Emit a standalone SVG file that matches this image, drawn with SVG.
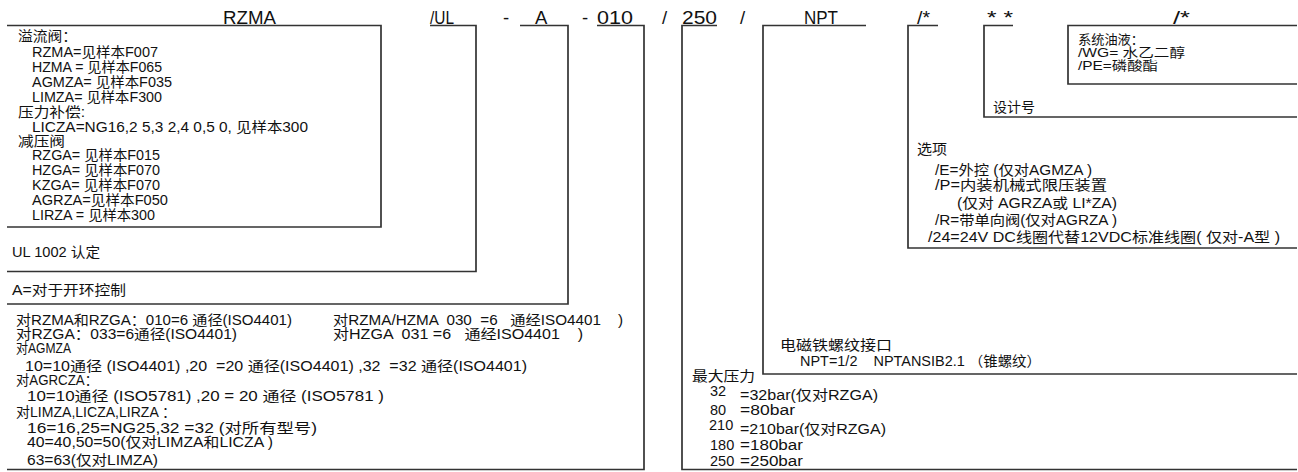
<svg xmlns="http://www.w3.org/2000/svg" width="1298" height="472" viewBox="0 0 1298 472">
<style>
.t{font-family:"Liberation Sans","Noto Sans CJK SC",sans-serif;font-size:14px;fill:#111;white-space:pre}
.m{font-size:14px}
.n{font-size:14.5px}
.s{font-size:13px}
.h{font-size:18.5px}
.c{fill:none;stroke:#333;stroke-width:1.7}
</style>
<rect width="1298" height="472" fill="#fff"/>
<g id="connectors">
<polyline class="c" points="7,25.5 381,25.5 381,227 7,227"/>
<polyline class="c" points="430,25.5 476,25.5 476,271.5 7,271.5"/>
<polyline class="c" points="520,25.5 568,25.5 568,304 7,304"/>
<polyline class="c" points="597,25.5 644,25.5 644,469.5 7,469.5"/>
<polyline class="c" points="717,25.5 682,25.5 682,469.5 1297,469.5"/>
<polyline class="c" points="866,25.5 763,25.5 763,374 1297,374"/>
<polyline class="c" points="938,25.5 908,25.5 908,248 1297,248"/>
<polyline class="c" points="1013,25.5 984,25.5 984,117 1297,117"/>
<polyline class="c" points="1297,25.5 1068,25.5 1068,84 1297,84"/>
</g>
<g id="separators">
<text class="t h" x="503" y="23.5">-</text>
<text class="t h" x="582" y="23.5">-</text>
<text class="t h" x="662" y="23.5">/</text>
<text class="t h" x="740" y="23.5">/</text>
</g>
<g id="n-rzma">
<text class="t h" x="223" y="23.5" textLength="53" lengthAdjust="spacingAndGlyphs">RZMA</text>
<text class="t" x="18" y="41" textLength="59" lengthAdjust="spacingAndGlyphs">溢流阀：</text>
<text class="t" x="32" y="57" textLength="126" lengthAdjust="spacingAndGlyphs">RZMA=见样本F007</text>
<text class="t" x="32" y="72" textLength="130" lengthAdjust="spacingAndGlyphs">HZMA = 见样本F065</text>
<text class="t" x="32" y="87" textLength="140" lengthAdjust="spacingAndGlyphs">AGMZA= 见样本F035</text>
<text class="t" x="32" y="102" textLength="130" lengthAdjust="spacingAndGlyphs">LIMZA= 见样本F300</text>
<text class="t" x="18" y="117" textLength="67" lengthAdjust="spacingAndGlyphs">压力补偿:</text>
<text class="t" x="32" y="132" textLength="276" lengthAdjust="spacingAndGlyphs">LICZA=NG16,2 5,3 2,4 0,5 0, 见样本300</text>
<text class="t" x="18" y="146" textLength="47" lengthAdjust="spacingAndGlyphs">减压阀</text>
<text class="t" x="32" y="160" textLength="128" lengthAdjust="spacingAndGlyphs">RZGA= 见样本F015</text>
<text class="t" x="32" y="175" textLength="128" lengthAdjust="spacingAndGlyphs">HZGA= 见样本F070</text>
<text class="t" x="32" y="190" textLength="128" lengthAdjust="spacingAndGlyphs">KZGA= 见样本F070</text>
<text class="t" x="32" y="205" textLength="136" lengthAdjust="spacingAndGlyphs">AGRZA=见样本F050</text>
<text class="t" x="32" y="220" textLength="123" lengthAdjust="spacingAndGlyphs">LIRZA = 见样本300</text>
</g>
<g id="n-ul">
<text class="t h" x="430" y="23.5" textLength="24" lengthAdjust="spacingAndGlyphs">/UL</text>
<text class="t" x="12" y="257" textLength="88" lengthAdjust="spacingAndGlyphs">UL 1002 认定</text>
</g>
<g id="n-a">
<text class="t h" x="535" y="23.5">A</text>
<text class="t" x="12" y="295" textLength="114" lengthAdjust="spacingAndGlyphs">A=对于开环控制</text>
</g>
<g id="n-010">
<text class="t h" x="597" y="23.5" textLength="36" lengthAdjust="spacingAndGlyphs">010</text>
<text class="t" x="16" y="325" textLength="276" lengthAdjust="spacingAndGlyphs">对RZMA和RZGA：010=6 通径(ISO4401)</text>
<text class="t" x="333" y="325" textLength="290" lengthAdjust="spacingAndGlyphs">对RZMA/HZMA  030  =6   通经ISO4401    )</text>
<text class="t" x="16" y="339" textLength="221" lengthAdjust="spacingAndGlyphs">对RZGA：033=6通径(ISO4401)</text>
<text class="t" x="333" y="339" textLength="250" lengthAdjust="spacingAndGlyphs">对HZGA  031 =6   通经ISO4401    )</text>
<text class="t" x="16" y="353" textLength="55" lengthAdjust="spacingAndGlyphs">对AGMZA</text>
<text class="t" x="25" y="371" textLength="502" lengthAdjust="spacingAndGlyphs">10=10通径 (ISO4401) ,20  =20 通径(ISO4401) ,32  =32 通径(ISO4401)</text>
<text class="t" x="16" y="385" textLength="82" lengthAdjust="spacingAndGlyphs">对AGRCZA：</text>
<text class="t" x="27" y="401" textLength="357" lengthAdjust="spacingAndGlyphs">10=10通径 (ISO5781) ,20 = 20 通径 (ISO5781 )</text>
<text class="t" x="16" y="417" textLength="160" lengthAdjust="spacingAndGlyphs">对LIMZA,LICZA,LIRZA ：</text>
<text class="t" x="27" y="433" textLength="290" lengthAdjust="spacingAndGlyphs">16=16,25=NG25,32 =32 (对所有型号)</text>
<text class="t" x="27" y="447" textLength="246" lengthAdjust="spacingAndGlyphs">40=40,50=50(仅对LIMZA和LICZA )</text>
<text class="t" x="27" y="465" textLength="131" lengthAdjust="spacingAndGlyphs">63=63(仅对LIMZA)</text>
</g>
<g id="n-250">
<text class="t h" x="682" y="23.5" textLength="35" lengthAdjust="spacingAndGlyphs">250</text>
<text class="t m" x="692" y="381" textLength="63" lengthAdjust="spacingAndGlyphs">最大压力</text>
<text class="t n" x="710" y="396">32</text>
<text class="t m" x="740" y="400" textLength="138" lengthAdjust="spacingAndGlyphs">=32bar(仅对RZGA)</text>
<text class="t n" x="710" y="415">80</text>
<text class="t m" x="740" y="415" textLength="55" lengthAdjust="spacingAndGlyphs">=80bar</text>
<text class="t n" x="709" y="430">210</text>
<text class="t m" x="740" y="434" textLength="146" lengthAdjust="spacingAndGlyphs">=210bar(仅对RZGA)</text>
<text class="t n" x="710" y="449.5">180</text>
<text class="t m" x="740" y="449.5" textLength="63" lengthAdjust="spacingAndGlyphs">=180bar</text>
<text class="t n" x="710" y="466">250</text>
<text class="t m" x="740" y="466" textLength="63" lengthAdjust="spacingAndGlyphs">=250bar</text>
</g>
<g id="n-npt">
<text class="t h" x="804" y="23.5" textLength="34" lengthAdjust="spacingAndGlyphs">NPT</text>
<text class="t m" x="780" y="350" textLength="112" lengthAdjust="spacingAndGlyphs">电磁铁螺纹接口</text>
<text class="t m" x="800" y="366" textLength="241" lengthAdjust="spacingAndGlyphs">NPT=1/2    NPTANSIB2.1 （锥螺纹）</text>
</g>
<g id="n-options">
<text class="t h" x="917" y="23.5" textLength="13" lengthAdjust="spacingAndGlyphs">/*</text>
<text class="t" x="917" y="154" textLength="30" lengthAdjust="spacingAndGlyphs">选项</text>
<text class="t" x="935" y="175" textLength="157" lengthAdjust="spacingAndGlyphs">/E=外控 (仅对AGMZA )</text>
<text class="t" x="935" y="190" textLength="172" lengthAdjust="spacingAndGlyphs">/P=内装机械式限压装置</text>
<text class="t" x="957" y="208" textLength="160" lengthAdjust="spacingAndGlyphs">(仅对 AGRZA或 LI*ZA)</text>
<text class="t" x="935" y="225" textLength="182" lengthAdjust="spacingAndGlyphs">/R=带单向阀(仅对AGRZA )</text>
<text class="t" x="928" y="242" textLength="352" lengthAdjust="spacingAndGlyphs">/24=24V DC线圈代替12VDC标准线圈( 仅对-A型 )</text>
</g>
<g id="n-design">
<text class="t h" x="987" y="23.5" textLength="26" lengthAdjust="spacingAndGlyphs">* *</text>
<text class="t" x="993" y="112" textLength="42" lengthAdjust="spacingAndGlyphs">设计号</text>
</g>
<g id="n-fluid">
<text class="t h" x="1173" y="23.5" textLength="17" lengthAdjust="spacingAndGlyphs">/*</text>
<text class="t s" x="1078" y="44" textLength="66" lengthAdjust="spacingAndGlyphs">系统油液：</text>
<text class="t s" x="1078" y="57" textLength="107" lengthAdjust="spacingAndGlyphs">/WG= 水乙二醇</text>
<text class="t s" x="1078" y="70" textLength="80" lengthAdjust="spacingAndGlyphs">/PE=磷酸酯</text>
</g>
</svg>
